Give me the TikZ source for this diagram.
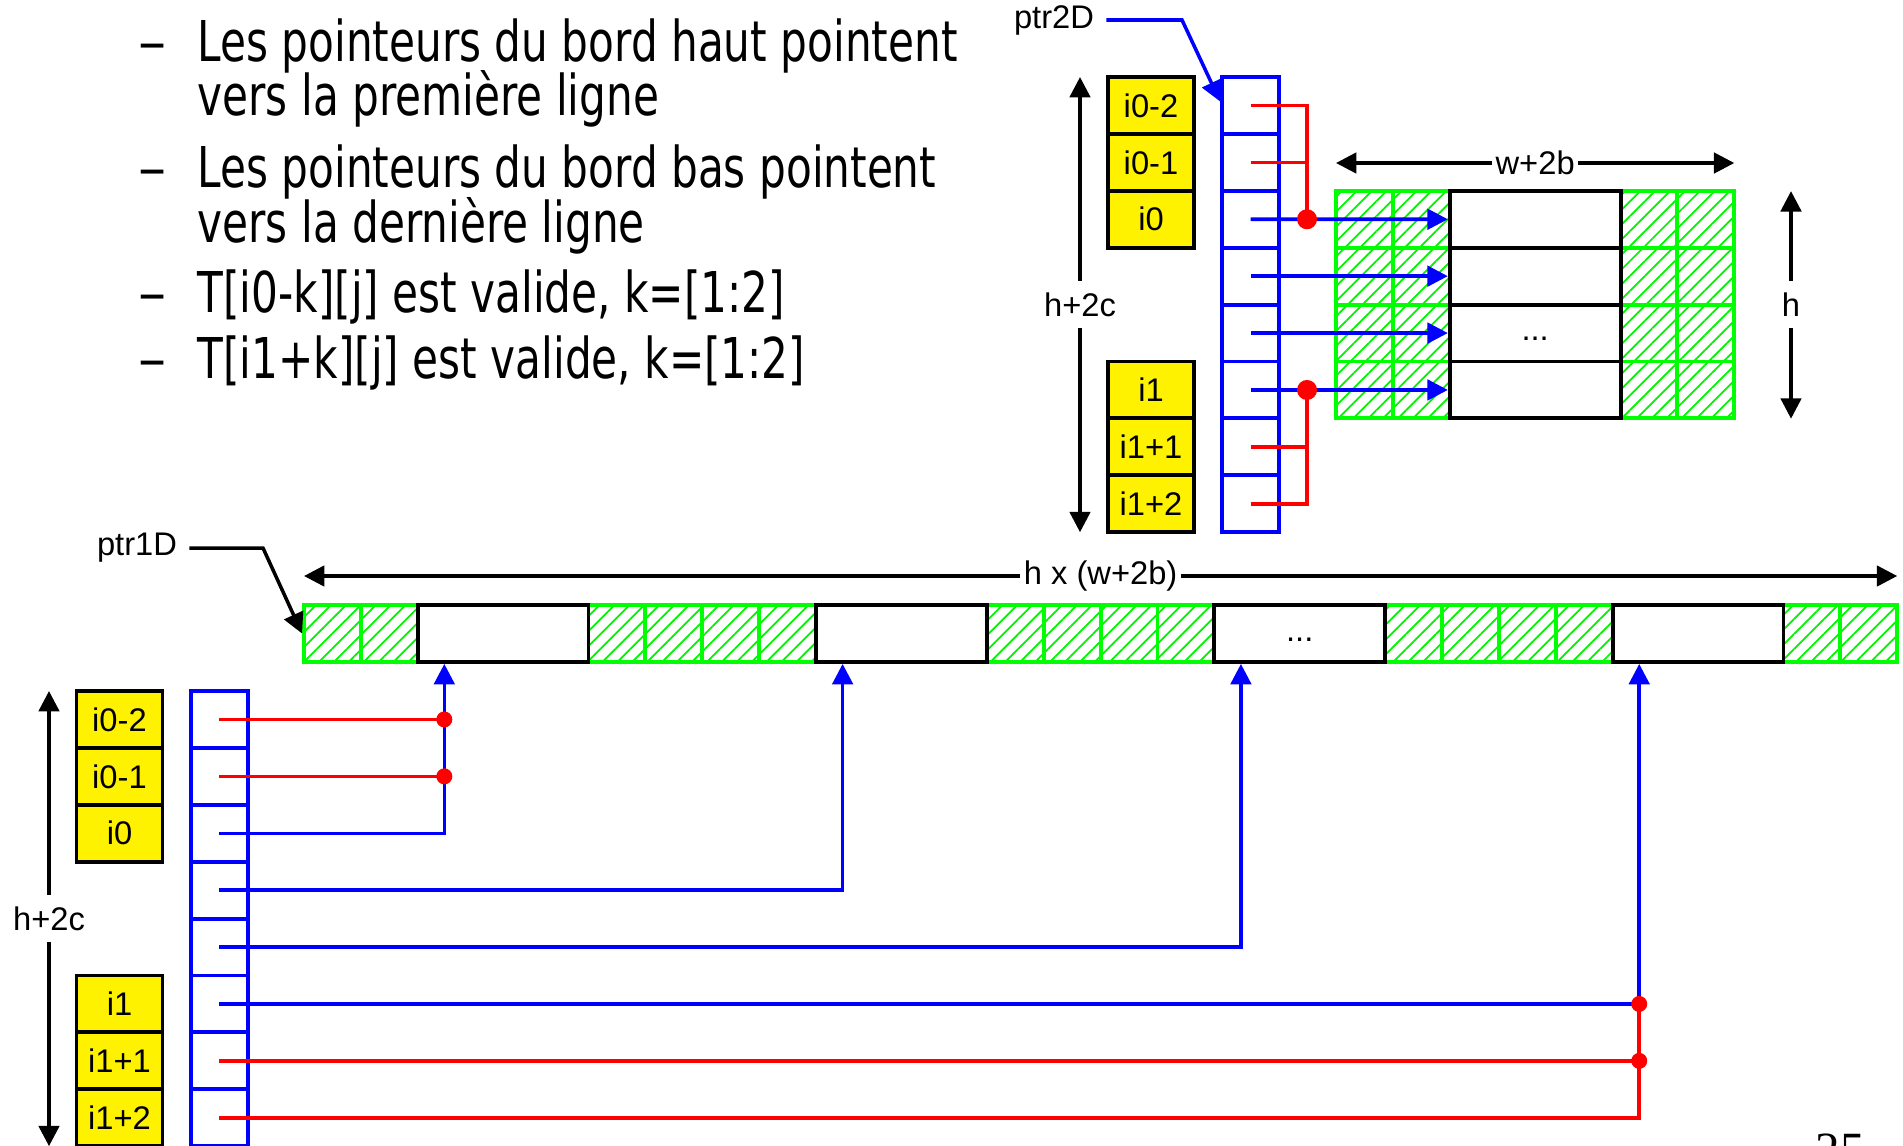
\documentclass[tikz,border=0pt]{standalone}
\usepackage{fontspec}
\setmainfont{Liberation Sans}
\newfontfamily\slidefont[FakeStretch=0.75]{DejaVu Sans}
\newfontfamily\dashfont{DejaVu Sans}
\newfontfamily\pagefont{Liberation Serif}
\usetikzlibrary{arrows.meta, calc, positioning, patterns.meta}

\begin{document}
\begin{tikzpicture}[x=0.01cm, y=-0.01cm,
    ptr/.style={draw=blue, line width=1.1pt, minimum width=0.569cm, minimum height=0.569cm, inner sep=0pt},
    idx/.style={draw=black, fill=yellow, line width=1.1pt, minimum width=0.86cm, minimum height=0.569cm, inner sep=0pt, font=\fontsize{9.3}{10}\selectfont},
    halo/.style={draw=green, line width=1.1pt, minimum width=0.569cm, minimum height=0.569cm, inner sep=0pt,
      pattern={Lines[angle=45, distance=3pt, line width=0.5pt]}, pattern color=green!95!black},
    rowbox/.style={draw=black, fill=white, line width=1.1pt, minimum width=1.707cm, minimum height=0.569cm, inner sep=0pt},
    link/.style={blue, line width=1pt},
    redlink/.style={red, line width=1pt},
    arrowto/.style={-{Triangle[length=5.8pt, width=5.8pt]}},
    dimline/.style={black, line width=1pt, {Triangle[length=5.8pt, width=5.8pt]}-{Triangle[length=5.8pt, width=5.8pt]}},
    lbl/.style={font=\fontsize{9.3}{10}\selectfont},
    junction/.style={circle, fill=red, inner sep=0pt, minimum size=0.16cm},
    slide/.style={font=\slidefont\fontsize{16}{19}\selectfont, inner sep=0pt, anchor=base west},
    bullet/.style={font=\dashfont\fontsize{16}{19}\selectfont, inner sep=0pt, anchor=base west},
]
\useasboundingbox (0,0) rectangle (1903,1145);

% Bullet text
\node[bullet] (d1) at (138, 61) {–};
\node[slide] (t1) at (197, 61) {Les pointeurs du bord haut pointent};
\node[slide] (t1b) at (197, 115) {vers la première ligne};
\node[bullet] (d2) at (138, 187) {–};
\node[slide] (t2) at (197, 187) {Les pointeurs du bord bas pointent};
\node[slide] (t2b) at (197, 242) {vers la dernière ligne};
\node[bullet] (d3) at (138, 312) {–};
\node[slide] (t3) at (197, 312) {T[i0-k][j] est valide, k=[1:2]};
\node[bullet] (d4) at (138, 378) {–};
\node[slide] (t4) at (197, 378) {T[i1+k][j] est valide, k=[1:2]};

% 2D: pointer array and row indices
\foreach \i in {1,...,8}
  \node[ptr] (q\i) at (1250.5, {77+56.9*(\i-0.5)}) {};
\foreach \lab [count=\i] in {i0-2, i0-1, i0}
  \node[idx] (yq\i) at (1151, {77+56.9*(\i-0.5)}) {\lab};
\foreach \lab [count=\i from 6] in {i1, i1+1, i1+2}
  \node[idx] (yq\i) at (1151, {77+56.9*(\i-0.5)}) {\lab};

% 2D: image with borders
\foreach \r in {0,...,3} {
  \foreach \c in {0,1,5,6}
    \node[halo] (g\r-\c) at ({1336+56.9*(\c+0.5)}, {219.25+56.9*\r}) {};
  \node[rowbox] (line\r) at ({1336+56.9*3.5}, {219.25+56.9*\r}) {};
}
\node[lbl] (dots2d) at ($(line2.center)+(0,6)$) {...};

% 2D: links
\coordinate (jt) at (1307, 219.25);
\coordinate (jb) at (1307, 389.95);
\draw[redlink] (q1.center) -| (jt);
\draw[redlink] (q2.center) -- (q2.center -| jt);
\draw[redlink] (q8.center) -| (jb);
\draw[redlink] (q7.center) -- (q7.center -| jb);
\draw[link, arrowto] (q3.center) -- (line0.west);
\draw[link, arrowto] (q4.center) -- (line1.west);
\draw[link, arrowto] (q5.center) -- (line2.west);
\draw[link, arrowto] (q6.center) -- (line3.west);
\node[junction, minimum size=0.2cm] (jtdot) at (jt) {};
\node[junction, minimum size=0.2cm] (jbdot) at (jb) {};

% 2D: sizes
\coordinate (hq1) at (1080, 77);
\coordinate (hq2) at (1080, 532.2);
\draw[dimline] (hq1) -- (hq2) node[midway, fill=white, lbl] (hqlab) {h+2c};
\coordinate (wl) at (1336, 163);
\coordinate (wr) at (1734.3, 163);
\draw[dimline] (wl) -- (wr) node[midway, fill=white, lbl, inner xsep=1pt] (wlab) {w+2b};
\coordinate (ht) at (1791, 191.1);
\coordinate (hb) at (1791, 418.7);
\draw[dimline] (ht) -- (hb) node[midway, fill=white, lbl] (hlab) {h};

\node[lbl] (ptrtwo) at (1054, 20) {ptr2D};
\draw[link, arrowto] (ptrtwo.east) -- (1182, 20) -- ($(q1.west)+(0,-4)$);

% 1D: strip
\foreach \c in {0,1,5,6,7,8,12,13,14,15,19,20,21,22,26,27}
  \node[halo] (s\c) at ({304+56.9*(\c+0.5)}, 633.5) {};
\foreach \n/\c in {A/2, B/9, C/16, D/23}
  \node[rowbox] (box\n) at ({304+56.9*(\c+1.5)}, 633.5) {};
\node[lbl] (dots1d) at ($(boxC.center)+(0,6)$) {...};

\coordinate (sl) at (304, 576);
\coordinate (sr) at (1897.2, 576);
\draw[dimline] (sl) -- (sr) node[midway, fill=white, lbl, inner xsep=1pt] (slab) {h x (w+2b)};

\node[lbl] (ptrone) at (137, 548) {ptr1D};
\draw[black, line width=1pt, arrowto] (ptrone.east) -- (263, 548) -- (s0.west);

% 1D: pointer array and row indices
\foreach \i in {1,...,8}
  \node[ptr] (p\i) at (219.2, {691+56.9*(\i-0.5)}) {};
\foreach \lab [count=\i] in {i0-2, i0-1, i0}
  \node[idx] (yp\i) at (119.5, {691+56.9*(\i-0.5)}) {\lab};
\foreach \lab [count=\i from 6] in {i1, i1+1, i1+2}
  \node[idx] (yp\i) at (119.5, {691+56.9*(\i-0.5)}) {\lab};

\coordinate (hp1) at (49, 691);
\coordinate (hp2) at (49, 1146.2);
\draw[dimline] (hp1) -- (hp2) node[midway, fill=white, lbl] (hplab) {h+2c};

% 1D: links
\coordinate (ja) at ($(boxA.south west)+(28.5,0)$);
\coordinate (jbb) at ($(boxB.south west)+(28.5,0)$);
\coordinate (jc) at ($(boxC.south west)+(28.5,0)$);
\coordinate (jd) at ($(boxD.south west)+(28.5,0)$);
\draw[redlink] (p1.center) -- (p1.center -| ja);
\draw[redlink] (p2.center) -- (p2.center -| ja);
\draw[redlink] (p8.center) -| (p6.center -| jd);
\draw[redlink] (p7.center) -- (p7.center -| jd);
\draw[link, arrowto] (p3.center) -| (ja);
\draw[link, arrowto] (p4.center) -| (jbb);
\draw[link, arrowto] (p5.center) -| (jc);
\draw[link, arrowto] (p6.center) -| (jd);
\node[junction] (jadot1) at (p1.center -| ja) {};
\node[junction] (jadot2) at (p2.center -| ja) {};
\node[junction] (jddot1) at (p6.center -| jd) {};
\node[junction] (jddot2) at (p7.center -| jd) {};

\node[font=\pagefont\fontsize{14}{14}\selectfont, anchor=north, inner sep=0pt] (pagenum) at (1840, 1133) {25};
\end{tikzpicture}
\end{document}
